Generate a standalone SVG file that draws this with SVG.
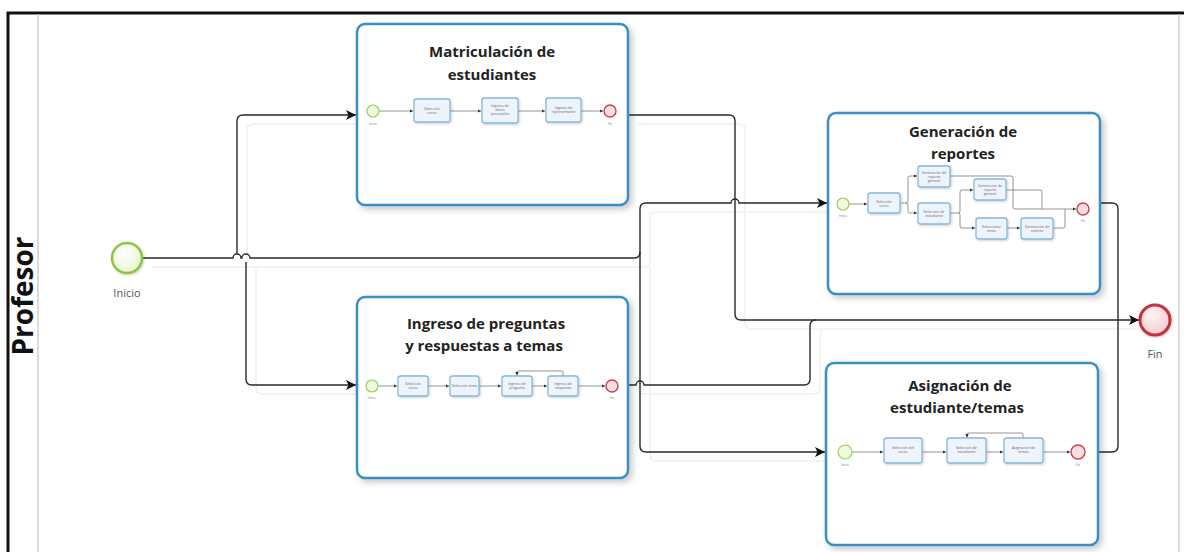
<svg xmlns="http://www.w3.org/2000/svg" width="1184" height="552" viewBox="0 0 1184 552">
  <defs>
    <style>
      .lane { fill: none; stroke: #111; stroke-width: 3; }
      .lane-sep { stroke: #cfcfcf; stroke-width: 1.5; }
      .lane-title { font-family: "Open Sans", "Liberation Sans", sans-serif; font-weight: bold; font-size: 28px; fill: #111; }
      .sub { fill: #fff; stroke: #3b8ec2; stroke-width: 2.5; }
      .sub-title { font-family: "Open Sans", "Liberation Sans", sans-serif; font-weight: bold; font-size: 15px; fill: #222; text-anchor: middle; }
      .flow { fill: none; stroke: #2a2a2a; stroke-width: 1.4; }
      .flow-shadow { fill: none; stroke: #f3f3f3; stroke-width: 2; }
      .ev-start { fill: url(#gStart); stroke: #8cc63f; stroke-width: 2.5; }
      .ev-end { fill: url(#gEnd); stroke: #c3323c; stroke-width: 3; }
      .ev-label { font-family: "Open Sans", "Liberation Sans", sans-serif; font-size: 11px; fill: #555; text-anchor: middle; }
      .mini-start { fill: #effadf; stroke: #9ccf55; stroke-width: 1.2; }
      .mini-end { fill: #f9dfe2; stroke: #c9414a; stroke-width: 1.4; }
      .mini-label { font-family: "Open Sans", "Liberation Sans", sans-serif; font-size: 3.2px; fill: #777; text-anchor: middle; }
      .task { fill: #edf4fb; stroke: #86b8de; stroke-width: 1.3; }
      .task-text { font-family: "Open Sans", "Liberation Sans", sans-serif; font-size: 3.6px; fill: #666; text-anchor: middle; }
      .mini-flow { fill: none; stroke: #7a7a7a; stroke-width: 0.8; }
    </style>
    <radialGradient id="gStart" cx="40%" cy="35%" r="70%">
      <stop offset="0" stop-color="#ffffff"/>
      <stop offset="1" stop-color="#e6f5cf"/>
    </radialGradient>
    <radialGradient id="gEnd" cx="40%" cy="35%" r="70%">
      <stop offset="0" stop-color="#fff4f5"/>
      <stop offset="1" stop-color="#f2c9cd"/>
    </radialGradient>
    <filter id="shadow" x="-10%" y="-10%" width="130%" height="130%">
      <feDropShadow dx="3" dy="3" stdDeviation="3" flood-color="#000" flood-opacity="0.22"/>
    </filter>
    <filter id="softShadow" x="-20%" y="-20%" width="150%" height="150%">
      <feDropShadow dx="1" dy="1" stdDeviation="0.8" flood-color="#000" flood-opacity="0.2"/>
    </filter>
    <marker id="arrow" viewBox="0 0 10 10" refX="10" refY="5" markerWidth="10" markerHeight="10" markerUnits="userSpaceOnUse" orient="auto">
      <path d="M0,0 L10,5 L0,10 L2.5,5 Z" fill="#111"/>
    </marker>
    <marker id="miniArrow" viewBox="0 0 10 10" refX="10" refY="5" markerWidth="3.5" markerHeight="3.5" markerUnits="userSpaceOnUse" orient="auto">
      <path d="M0,0 L10,5 L0,10 Z" fill="#333"/>
    </marker>
  </defs>

  <rect width="1184" height="552" fill="#fff"/>

  <!-- pool / lane frame -->
  <g id="lane">
    <path class="lane" d="M8,560 V13 H1190"/>
    <line class="lane-sep" x1="38" y1="14" x2="38" y2="552"/>
    <line class="lane-sep" x1="1179" y1="14" x2="1179" y2="552"/>
    <text class="lane-title" transform="translate(33,296) rotate(-90)" text-anchor="middle">Profesor</text>
  </g>

  <!-- faint connector shadows -->
  <g id="connector-shadows" transform="translate(10,9)">
    <path class="flow-shadow" d="M142,258 H634 Q640,258 640,252 V209 Q640,203 646,203 H818"/>
    <path class="flow-shadow" d="M237,254 V121 Q237,115 243,115 H346"/>
    <path class="flow-shadow" d="M246,258 V379 Q246,385 252,385 H346"/>
    <path class="flow-shadow" d="M640,258 V446 Q640,452 646,452 H816"/>
    <path class="flow-shadow" d="M628,115 H729 Q735,115 735,121 V314 Q735,320 741,320 H1128"/>
    <path class="flow-shadow" d="M628,385 H804 Q810,385 810,379 V326 Q810,320 816,320"/>
  </g>

  <!-- sequence flows between the main elements -->
  <g id="connectors">
    <path class="flow" d="M142,258 H233 A4,4 0 0 1 241,258 H242 A4,4 0 0 1 250,258 H634 Q640,258 640,252 V209 Q640,203 646,203 H731 A4,4 0 0 1 739,203 H827" marker-end="url(#arrow)"/>
    <path class="flow" d="M237,254 V121 Q237,115 243,115 H356" marker-end="url(#arrow)"/>
    <path class="flow" d="M246,262 V379 Q246,385 252,385 H356" marker-end="url(#arrow)"/>
    <path class="flow" d="M640,252 V446 Q640,452 646,452 H825" marker-end="url(#arrow)"/>
    <path class="flow" d="M628,115 H729 Q735,115 735,121 V314 Q735,320 741,320 H1139" marker-end="url(#arrow)"/>
    <path class="flow" d="M628,385 H636 A4,4 0 0 1 644,385 H804 Q810,385 810,379 V326 Q810,320 816,320"/>
    <path class="flow" d="M1100,203 H1112 Q1118,203 1118,209 V320"/>
    <path class="flow" d="M1098,452 H1112 Q1118,452 1118,446 V320"/>
  </g>

  <!-- start event -->
  <g id="inicio">
    <circle class="ev-start" cx="127" cy="258" r="15" filter="url(#softShadow)"/>
    <text class="ev-label" x="127" y="297">Inicio</text>
  </g>

  <!-- end event -->
  <g id="fin">
    <circle class="ev-end" cx="1155" cy="320" r="15" filter="url(#softShadow)"/>
    <text class="ev-label" x="1155" y="358">Fin</text>
  </g>

  <!-- subprocess: Matriculación de estudiantes -->
  <g id="matriculacion">
    <rect class="sub" x="357" y="24" width="271" height="181" rx="8" filter="url(#shadow)"/>
    <text class="sub-title" x="492" y="57">Matriculación de</text>
    <text class="sub-title" x="492" y="80">estudiantes</text>
    <g class="mini-flows">
      <path class="mini-flow" d="M379,111 H413" marker-end="url(#miniArrow)"/>
      <path class="mini-flow" d="M450,111 H481" marker-end="url(#miniArrow)"/>
      <path class="mini-flow" d="M518,111 H545" marker-end="url(#miniArrow)"/>
      <path class="mini-flow" d="M581,111 H603" marker-end="url(#miniArrow)"/>
    </g>
    <circle class="mini-start" cx="373" cy="111" r="6"/>
    <text class="mini-label" x="373" y="125">Inicio</text>
    <rect class="task" x="414" y="99" width="36" height="23" rx="2.5" filter="url(#softShadow)"/>
    <text class="task-text" x="432" y="109.5">Selección<tspan x="432" dy="4.2">curso</tspan></text>
    <rect class="task" x="482" y="98" width="36" height="25" rx="2.5" filter="url(#softShadow)"/>
    <text class="task-text" x="500" y="106.5">Ingreso de<tspan x="500" dy="4.2">datos</tspan><tspan x="500" dy="4.2">personales</tspan></text>
    <rect class="task" x="546" y="98" width="35" height="24" rx="2.5" filter="url(#softShadow)"/>
    <text class="task-text" x="563.5" y="109">Ingreso de<tspan x="563.5" dy="4.2">representante</tspan></text>
    <circle class="mini-end" cx="610" cy="111" r="6"/>
    <text class="mini-label" x="610" y="125">Fin</text>
  </g>

  <!-- subprocess: Generación de reportes -->
  <g id="generacion">
    <rect class="sub" x="828" y="113" width="272" height="181" rx="8" filter="url(#shadow)"/>
    <text class="sub-title" x="963" y="137">Generación de</text>
    <text class="sub-title" x="963" y="159">reportes</text>
    <g class="mini-flows">
      <path class="mini-flow" d="M849,204 H867" marker-end="url(#miniArrow)"/>
      <path class="mini-flow" d="M900,203 H906 Q908,203 908,201 V178 Q908,176 910,176 H917" marker-end="url(#miniArrow)"/>
      <path class="mini-flow" d="M906,203 Q908,203 908,205 V211 Q908,213 910,213 H917" marker-end="url(#miniArrow)"/>
      <path class="mini-flow" d="M950,176 H1011 Q1013,176 1013,178 V207 Q1013,209 1015,209 H1076" marker-end="url(#miniArrow)"/>
      <path class="mini-flow" d="M950,213 H958 Q960,213 960,211 V192 Q960,190 962,190 H973" marker-end="url(#miniArrow)"/>
      <path class="mini-flow" d="M958,213 Q960,213 960,215 V226 Q960,228 962,228 H975" marker-end="url(#miniArrow)"/>
      <path class="mini-flow" d="M1006,190 H1040 Q1042,190 1042,192 V209"/>
      <path class="mini-flow" d="M1007,228 H1020" marker-end="url(#miniArrow)"/>
      <path class="mini-flow" d="M1053,228 H1063 Q1065,228 1065,226 V209"/>
    </g>
    <circle class="mini-start" cx="843" cy="204" r="6"/>
    <text class="mini-label" x="843" y="217">Inicio</text>
    <rect class="task" x="868" y="193" width="32" height="20" rx="2.5" filter="url(#softShadow)"/>
    <text class="task-text" x="884" y="202.5">Selección<tspan x="884" dy="4.2">curso</tspan></text>
    <rect class="task" x="918" y="166" width="32" height="21" rx="2.5" filter="url(#softShadow)"/>
    <text class="task-text" x="934" y="173.5">Generación de<tspan x="934" dy="4.2">reporte</tspan><tspan x="934" dy="4.2">general</tspan></text>
    <rect class="task" x="918" y="203" width="32" height="21" rx="2.5" filter="url(#softShadow)"/>
    <text class="task-text" x="934" y="212.5">Selección de<tspan x="934" dy="4.2">estudiante</tspan></text>
    <rect class="task" x="974" y="179" width="32" height="21" rx="2.5" filter="url(#softShadow)"/>
    <text class="task-text" x="990" y="186.5">Generación de<tspan x="990" dy="4.2">reporte</tspan><tspan x="990" dy="4.2">general</tspan></text>
    <rect class="task" x="976" y="218" width="31" height="21" rx="2.5" filter="url(#softShadow)"/>
    <text class="task-text" x="991.5" y="227.5">Seleccionar<tspan x="991.5" dy="4.2">tema</tspan></text>
    <rect class="task" x="1021" y="218" width="32" height="21" rx="2.5" filter="url(#softShadow)"/>
    <text class="task-text" x="1037" y="227.5">Generación de<tspan x="1037" dy="4.2">reporte</tspan></text>
    <circle class="mini-end" cx="1083" cy="209" r="6"/>
    <text class="mini-label" x="1083" y="222">Fin</text>
  </g>

  <!-- subprocess: Ingreso de preguntas y respuestas a temas -->
  <g id="ingreso">
    <rect class="sub" x="357" y="297" width="271" height="181" rx="8" filter="url(#shadow)"/>
    <text class="sub-title" x="486" y="329">Ingreso de preguntas</text>
    <text class="sub-title" x="484" y="351">y respuestas a temas</text>
    <g class="mini-flows">
      <path class="mini-flow" d="M378,386 H397" marker-end="url(#miniArrow)"/>
      <path class="mini-flow" d="M428,386 H449" marker-end="url(#miniArrow)"/>
      <path class="mini-flow" d="M479,386 H501" marker-end="url(#miniArrow)"/>
      <path class="mini-flow" d="M532,386 H547" marker-end="url(#miniArrow)"/>
      <path class="mini-flow" d="M578,386 H605" marker-end="url(#miniArrow)"/>
      <path class="mini-flow" d="M563,376 V372 Q563,371 562,371 H518 Q517,371 517,372 V375.5" marker-end="url(#miniArrow)"/>
    </g>
    <circle class="mini-start" cx="372" cy="386" r="6"/>
    <text class="mini-label" x="372" y="399">Inicio</text>
    <rect class="task" x="398" y="376" width="30" height="20" rx="2.5" filter="url(#softShadow)"/>
    <text class="task-text" x="413" y="385">Selección<tspan x="413" dy="4.2">curso</tspan></text>
    <rect class="task" x="450" y="376" width="29" height="20" rx="2.5" filter="url(#softShadow)"/>
    <text class="task-text" x="464.5" y="387">Selección tema</text>
    <rect class="task" x="502" y="376" width="30" height="20" rx="2.5" filter="url(#softShadow)"/>
    <text class="task-text" x="517" y="385">Ingreso de<tspan x="517" dy="4.2">pregunta</tspan></text>
    <rect class="task" x="548" y="376" width="30" height="20" rx="2.5" filter="url(#softShadow)"/>
    <text class="task-text" x="563" y="385">Ingreso de<tspan x="563" dy="4.2">respuesta</tspan></text>
    <circle class="mini-end" cx="612" cy="386" r="6"/>
    <text class="mini-label" x="612" y="399">Fin</text>
  </g>

  <!-- subprocess: Asignación de estudiante/temas -->
  <g id="asignacion">
    <rect class="sub" x="826" y="363" width="272" height="182" rx="8" filter="url(#shadow)"/>
    <text class="sub-title" x="960" y="391">Asignación de</text>
    <text class="sub-title" x="957" y="413">estudiante/temas</text>
    <g class="mini-flows">
      <path class="mini-flow" d="M852,452 H883" marker-end="url(#miniArrow)"/>
      <path class="mini-flow" d="M922,452 H946" marker-end="url(#miniArrow)"/>
      <path class="mini-flow" d="M986,452 H1003" marker-end="url(#miniArrow)"/>
      <path class="mini-flow" d="M1043,452 H1070" marker-end="url(#miniArrow)"/>
      <path class="mini-flow" d="M1023,438 V434 Q1023,433 1022,433 H968 Q967,433 967,434 V437.5" marker-end="url(#miniArrow)"/>
    </g>
    <circle class="mini-start" cx="845" cy="452" r="7"/>
    <text class="mini-label" x="845" y="466">Inicio</text>
    <rect class="task" x="884" y="438" width="38" height="25" rx="2.5" filter="url(#softShadow)"/>
    <text class="task-text" x="903" y="449">Selección del<tspan x="903" dy="4.4">curso</tspan></text>
    <rect class="task" x="947" y="438" width="39" height="25" rx="2.5" filter="url(#softShadow)"/>
    <text class="task-text" x="966.5" y="449">Selección de<tspan x="966.5" dy="4.4">estudiante</tspan></text>
    <rect class="task" x="1004" y="438" width="39" height="25" rx="2.5" filter="url(#softShadow)"/>
    <text class="task-text" x="1023.5" y="449">Asignación de<tspan x="1023.5" dy="4.4">temas</tspan></text>
    <circle class="mini-end" cx="1078" cy="452" r="7"/>
    <text class="mini-label" x="1078" y="466">Fin</text>
  </g>
</svg>
